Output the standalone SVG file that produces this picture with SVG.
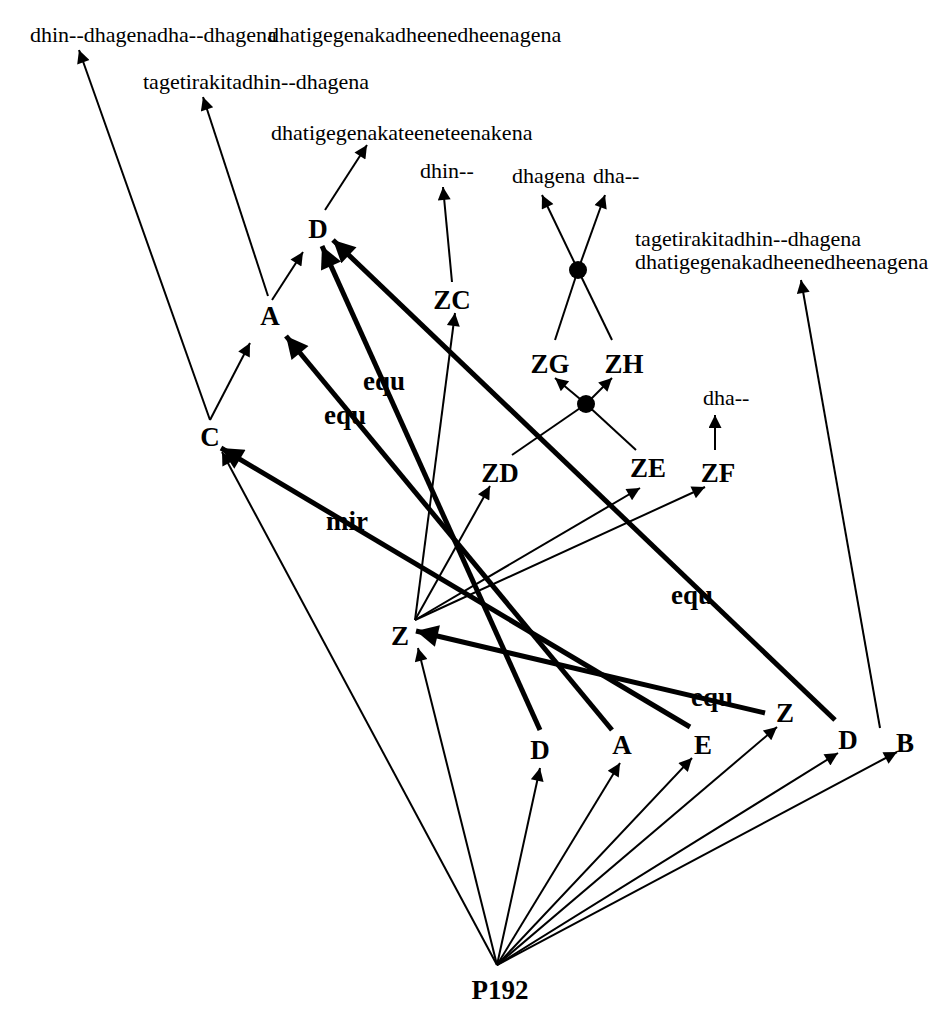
<svg xmlns="http://www.w3.org/2000/svg" width="944" height="1024" viewBox="0 0 944 1024">
<style>
.n{font-family:"Liberation Serif","Times New Roman","DejaVu Serif",serif;font-weight:bold;font-size:27px;text-anchor:middle}
.t{font-family:"Liberation Serif","Times New Roman","DejaVu Serif",serif;font-size:22px}
.thin{stroke:#000;stroke-width:2;fill:none;marker-end:url(#a)}
.thk{stroke:#000;stroke-width:5;fill:none;marker-end:url(#b)}
.pl{stroke:#000;stroke-width:2;fill:none}
</style>
<defs>
<marker id="a" viewBox="0 0 10 10" refX="10" refY="5" markerWidth="20" markerHeight="13" markerUnits="userSpaceOnUse" orient="auto"><path d="M0,0 L10,5 L0,10z"/></marker>
<marker id="b" viewBox="0 0 10 10" refX="10" refY="5" markerWidth="30" markerHeight="22" markerUnits="userSpaceOnUse" orient="auto"><path d="M0,0 L10,5 L0,10z"/></marker>
</defs>
<rect width="944" height="1024" fill="#fff"/>
<g id="connectors">
<path class="thin" d="M210,420 L79,50"/>
<path class="thin" d="M268,296 L203,97"/>
<path class="thin" d="M325,210 L367,145"/>
<path class="thin" d="M452,282 L443,187"/>
<path class="pl" d="M555,340 L578,270"/><path class="thin" d="M578,270 L605,195"/>
<path class="pl" d="M612,340 L578,270"/><path class="thin" d="M578,270 L542,195"/>
<path class="thin" d="M880,728 L801,280"/>
<path class="thin" d="M715,450 L715,415"/>
<path class="pl" d="M512,455 L586,404"/><path class="thin" d="M586,404 L612,378"/>
<path class="pl" d="M636,450 L586,404"/><path class="thin" d="M586,404 L555,378"/>
<path class="thin" d="M415,620 L490,486"/>
<path class="thin" d="M415,620 L640,488"/>
<path class="thin" d="M415,620 L705,487"/>
<path class="thin" d="M415,620 L455,313"/>
<path class="thin" d="M210,420 L250,343"/>
<path class="thin" d="M272,300 L303,252"/>
<path class="thin" d="M497,965 L222,452"/>
<path class="thin" d="M497,965 L418,648"/>
<path class="thin" d="M497,965 L540,768"/>
<path class="thin" d="M497,965 L620,763"/>
<path class="thin" d="M497,965 L692,758"/>
<path class="thin" d="M497,965 L777,727"/>
<path class="thin" d="M497,965 L838,753"/>
<path class="thin" d="M497,965 L897,752"/>
<path class="thk" d="M540,730 L322,246"/>
<path class="thk" d="M612,730 L286,336"/>
<path class="thk" d="M690,727 L221,448"/>
<path class="thk" d="M765,713 L416,631"/>
<path class="thk" d="M835,720 L333,240"/>
<circle cx="578" cy="270" r="9"/>
<circle cx="586" cy="404" r="9"/>
<text class="n" x="384" y="390">equ</text>
<text class="n" x="345" y="424">equ</text>
<text class="n" x="347" y="530">mir</text>
<text class="n" x="692" y="604">equ</text>
<text class="n" x="712" y="706">equ</text>
</g>
<g id="leaves">
<text class="t" x="30" y="42">dhin--dhagenadha--dhagena</text>
<text class="t" x="268" y="42">dhatigegenakadheenedheenagena</text>
<text class="t" x="143" y="89">tagetirakitadhin--dhagena</text>
<text class="t" x="271" y="140">dhatigegenakateeneteenakena</text>
<text class="t" x="420" y="178">dhin--</text>
<text class="t" x="512" y="183">dhagena</text>
<text class="t" x="593" y="183">dha--</text>
<text class="t" x="635" y="246">tagetirakitadhin--dhagena</text>
<text class="t" x="635" y="269">dhatigegenakadheenedheenagena</text>
<text class="t" x="703" y="405">dha--</text>
</g>
<g id="nD1"><text class="n" x="318" y="238">D</text></g>
<g id="nA1"><text class="n" x="270" y="325">A</text></g>
<g id="nC"><text class="n" x="210" y="446">C</text></g>
<g id="nZC"><text class="n" x="452" y="309">ZC</text></g>
<g id="nZG"><text class="n" x="550" y="373">ZG</text></g>
<g id="nZH"><text class="n" x="624" y="373">ZH</text></g>
<g id="nZD"><text class="n" x="500" y="482">ZD</text></g>
<g id="nZE"><text class="n" x="648" y="477">ZE</text></g>
<g id="nZF"><text class="n" x="718" y="482">ZF</text></g>
<g id="nZ"><text class="n" x="400" y="645">Z</text></g>
<g id="nD2"><text class="n" x="540" y="759">D</text></g>
<g id="nA2"><text class="n" x="622" y="754">A</text></g>
<g id="nE"><text class="n" x="703" y="754">E</text></g>
<g id="nZ2"><text class="n" x="785" y="722">Z</text></g>
<g id="nD3"><text class="n" x="848" y="749">D</text></g>
<g id="nB"><text class="n" x="905" y="752">B</text></g>
<g id="nP192"><text class="n" x="500" y="999">P192</text></g>
</svg>
